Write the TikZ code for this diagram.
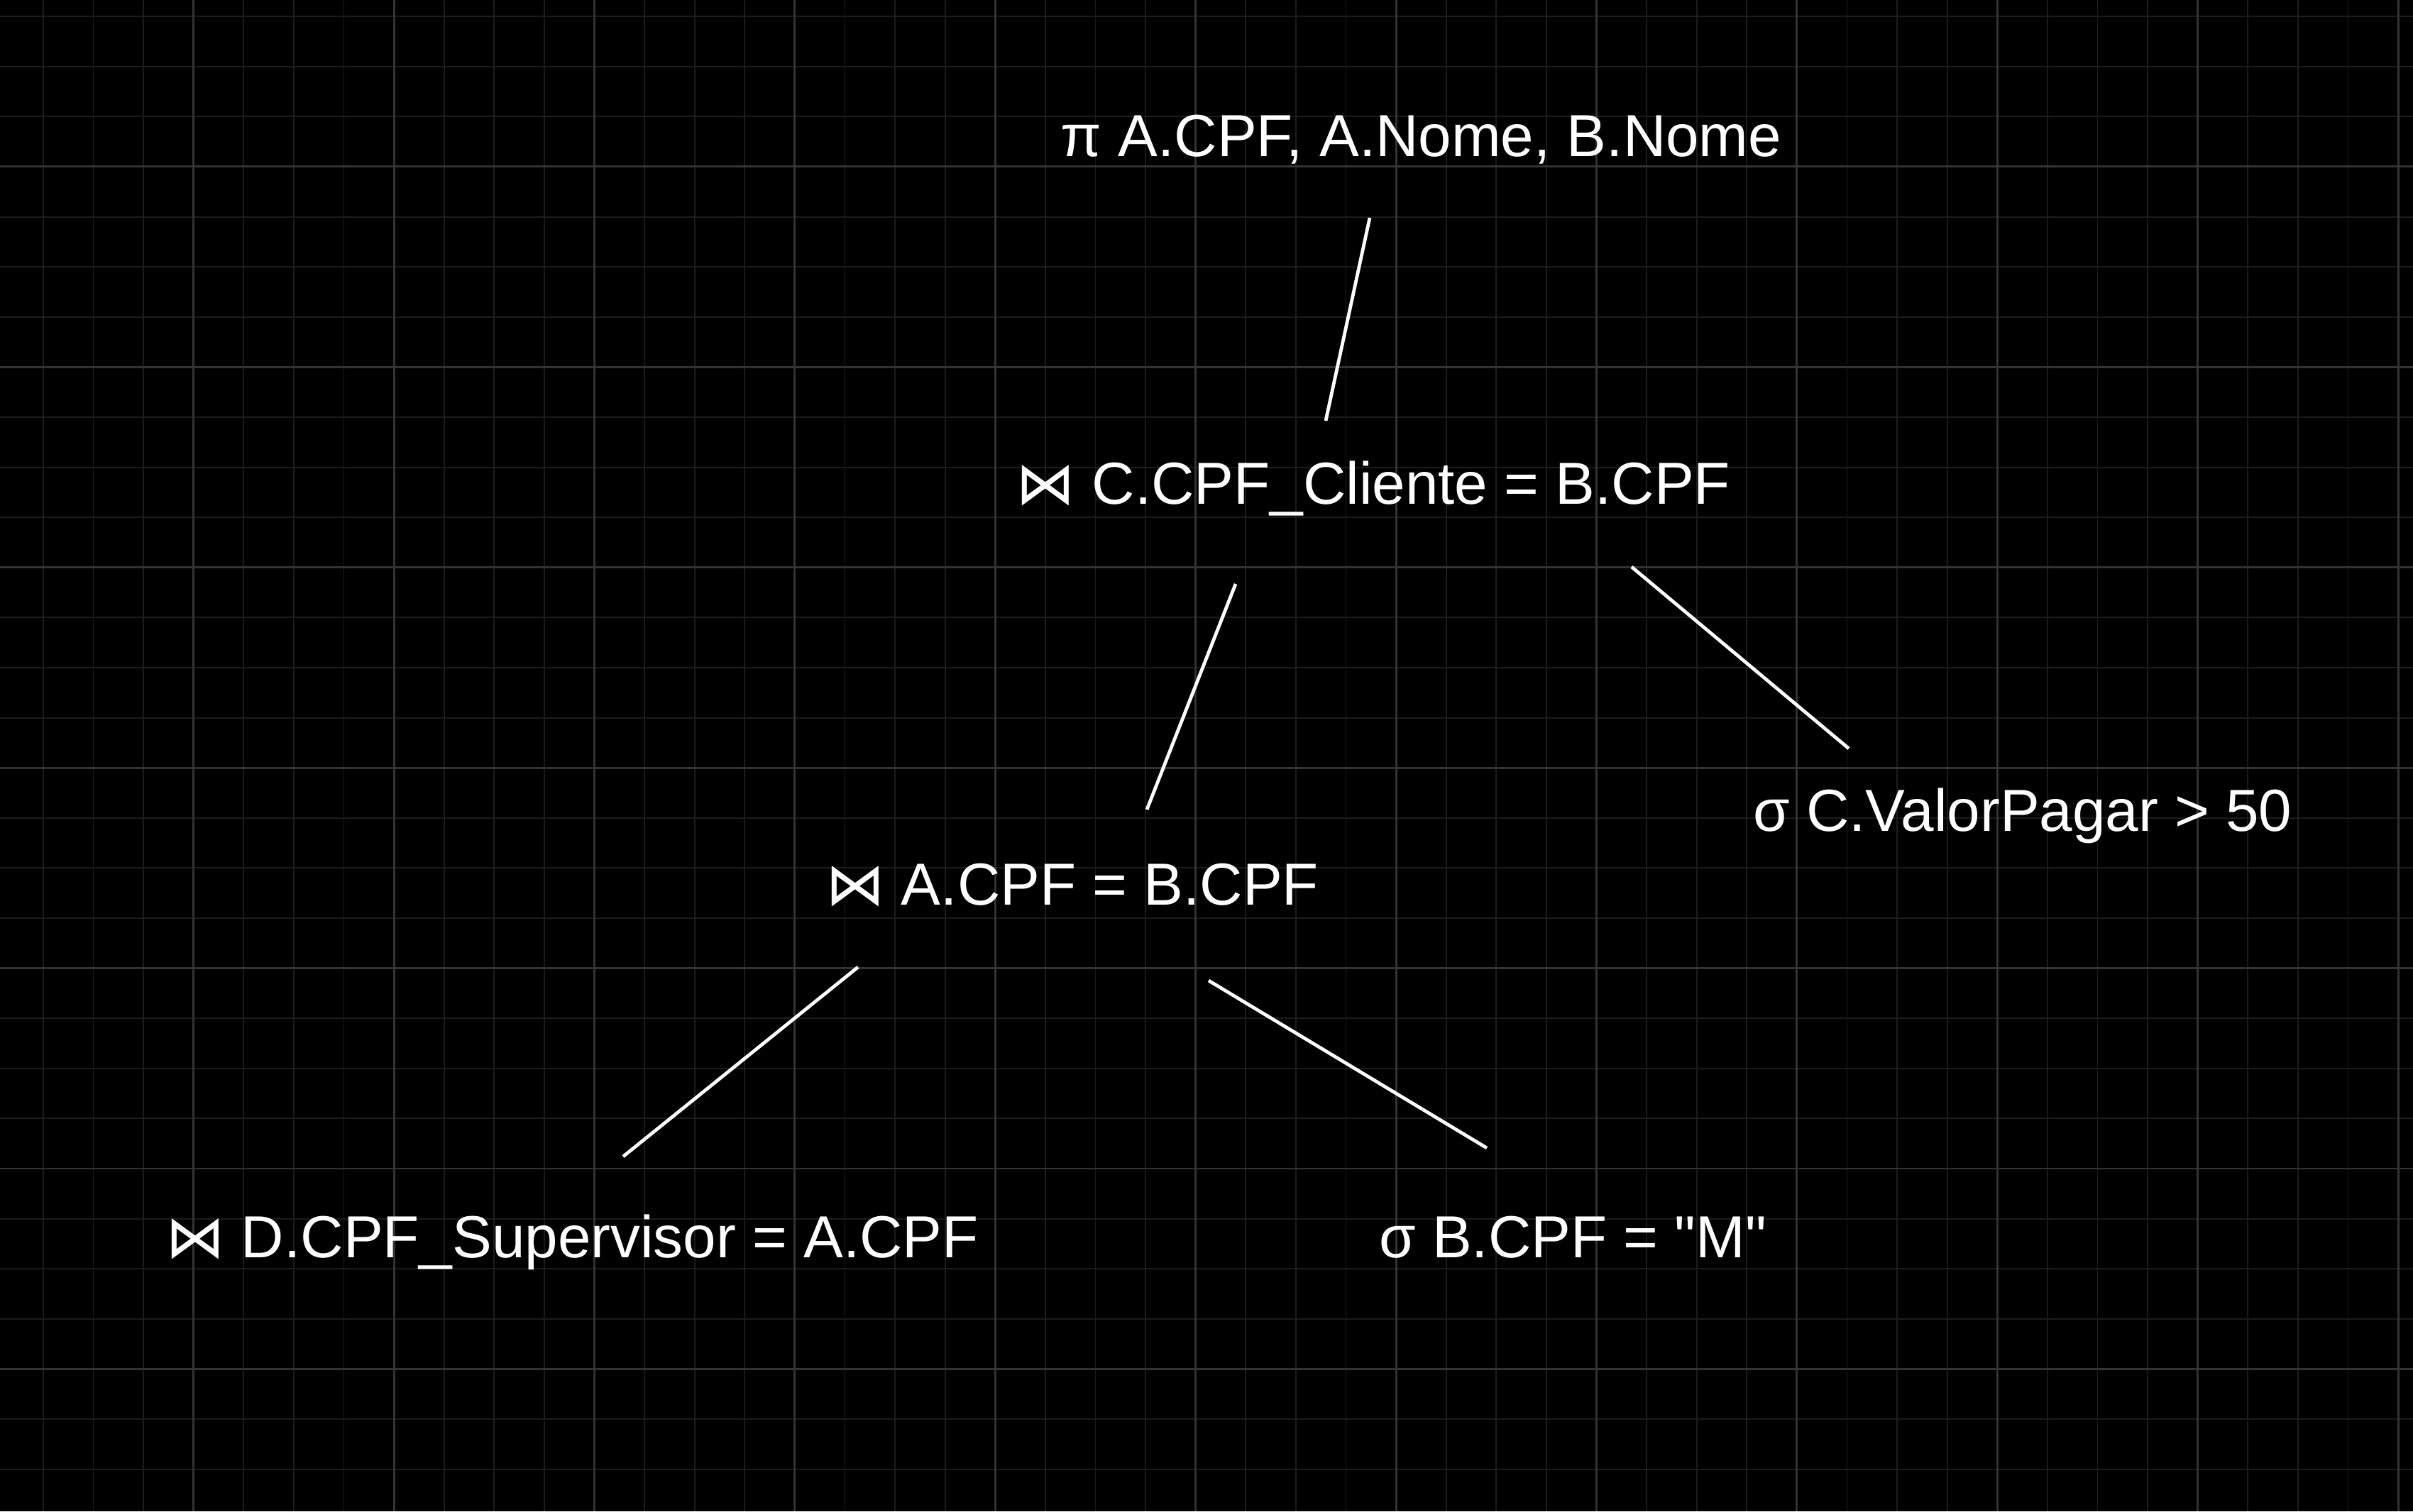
\documentclass[tikz,border=0pt]{standalone}
\usepackage{fontspec}
\setmainfont{Liberation Sans}[Ligatures=TeXOff]
\newfontfamily\symfont{DejaVu Sans}
\usepackage{tikz}
\usetikzlibrary{positioning}
\definecolor{gridminor}{HTML}{1C1C1C}
\definecolor{gridmajor}{HTML}{333333}

\tikzset{
  opnode/.style={text=white, inner sep=0pt, anchor=base, font=\fontsize{23.8}{28}\selectfont},
  treeedge/.style={white, line width=1.35pt},
}

\begin{document}
\begin{tikzpicture}
% Dark canvas
\fill[black] (0,0) rectangle (34,21.3);
\useasboundingbox (0,0) rectangle (34,21.3);

% Grid, minor and major lines
\begin{scope}[shift={(2.727,18.95)}]
\draw[gridminor, line width=0.55pt, step=0.706] (-2.727,-18.95) grid (31.273,2.35);
\draw[gridmajor, line width=0.85pt, step=2.824] (-2.727,-18.95) grid (31.273,2.35);
\end{scope}

% Operators of the query tree
\node[opnode] (proj) at (20.025,19.09) {π A.CPF, A.Nome, B.Nome};
\node[opnode] (cjoin) at (19.35,14.19) {{\symfont ⋈} C.CPF\_Cliente = B.CPF};
\node[opnode] (selc) at (28.50,9.58) {σ C.ValorPagar > 50};
\node[opnode] (ajoin) at (15.105,8.54) {{\symfont ⋈} A.CPF = B.CPF};
\node[opnode] (djoin) at (8.06,3.57) {{\symfont ⋈} D.CPF\_Supervisor = A.CPF};
\node[opnode] (selb) at (22.16,3.57) {σ B.CPF = "M"};

% Tree edges
\draw[treeedge] ([shift={(-0.725,-0.86)}]proj.base) -- ([shift={(-0.67,1.18)}]cjoin.base);
\draw[treeedge] ([shift={(-1.94,-1.12)}]cjoin.base) -- ([shift={(1.055,1.35)}]ajoin.base);
\draw[treeedge] ([shift={(3.64,-0.88)}]cjoin.base) -- ([shift={(-2.45,1.17)}]selc.base);
\draw[treeedge] ([shift={(-3.015,-0.87)}]ajoin.base) -- ([shift={(0.72,1.43)}]djoin.base);
\draw[treeedge] ([shift={(1.925,-1.06)}]ajoin.base) -- ([shift={(-1.21,1.55)}]selb.base);

\end{tikzpicture}
\end{document}
